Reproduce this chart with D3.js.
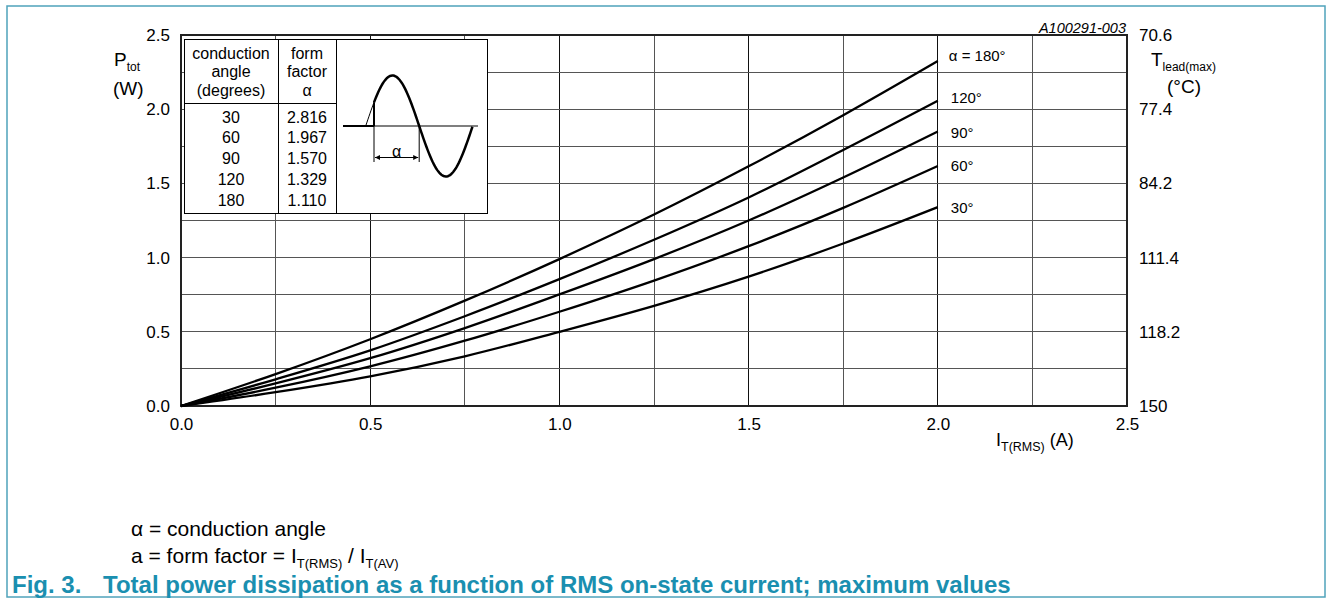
<!DOCTYPE html>
<meta charset="utf-8">
<style>
body { margin: 0; background: #fff; }
text { font-family: "Liberation Sans", Arial, sans-serif; fill: #000; }
.grid line { stroke: #555; stroke-width: 1; shape-rendering: crispEdges; }
.grid line.major { stroke: #111; }
.axis path, .axis line { display: none; }
.axis text { font-size: 17px; }
.curve { fill: none; stroke: #000; stroke-width: 2.3; }
.tbl line, .tbl rect { stroke: #000; stroke-width: 1; shape-rendering: crispEdges; }
.tbl text { font-size: 16px; text-anchor: middle; }
.clabel { font-size: 15px; paint-order: stroke; stroke: #fff; stroke-width: 4px; }
</style>
<svg width="1327" height="606"></svg>
<script src="https://d3js.org/d3.v7.min.js"></script>
<script>

// current I_T(RMS) in A
var current = [0, 0.25, 0.5, 0.75, 1.0, 1.25, 1.5, 1.75, 2.0];

// P_tot in W, one array per conduction angle
var p180 = [0, 0.215, 0.45, 0.71, 0.99, 1.29, 1.615, 1.96, 2.325];
var p120 = [0, 0.18, 0.375, 0.605, 0.855, 1.12, 1.405, 1.725, 2.057];
var p90  = [0, 0.152, 0.322, 0.525, 0.752, 0.99, 1.25, 1.54, 1.85];
var p60  = [0, 0.123, 0.267, 0.44, 0.635, 0.845, 1.077, 1.335, 1.617];
var p30  = [0, 0.093, 0.2, 0.335, 0.5, 0.675, 0.872, 1.095, 1.34];

var curveNames = ["α = 180°", "120°", "90°", "60°", "30°"];
var curveData = [p180, p120, p90, p60, p30];

// table in the corner
var tblAngles = ["30", "60", "90", "120", "180"];
var tblFactors = ["2.816", "1.967", "1.570", "1.329", "1.110"];

// axis ticks
var xTicks = [0, 0.5, 1.0, 1.5, 2.0, 2.5];
var yTicks = [0, 0.5, 1.0, 1.5, 2.0, 2.5];
var tLeadLabels = ["150", "118.2", "111.4", "84.2", "77.4", "70.6"];

var svg = d3.select("svg");

// outer frame
svg.append("rect")
    .attr("x", 7).attr("y", 6)
    .attr("width", 1318).attr("height", 591)
    .attr("fill", "#fff")
    .attr("stroke", "#4fa3bb")
    .attr("stroke-width", 1.5);

var x = d3.scaleLinear().domain([0, 2.5]).range([181, 1127]);
var y = d3.scaleLinear().domain([0, 2.5]).range([406, 35]);

// grid
var grid = svg.append("g").attr("class", "grid");
var steps = d3.range(1, 10).map(function(i) { return i * 0.25; });
grid.selectAll(".v")
    .data(steps)
    .enter().append("line")
        .attr("class", function(d) { return (d * 2) % 1 === 0 ? "v major" : "v"; })
        .attr("x1", function(d) { return x(d); })
        .attr("x2", function(d) { return x(d); })
        .attr("y1", y(0)).attr("y2", y(2.5));
grid.selectAll(".h")
    .data(steps)
    .enter().append("line")
        .attr("class", "h")
        .attr("y1", function(d) { return y(d); })
        .attr("y2", function(d) { return y(d); })
        .attr("x1", x(0)).attr("x2", x(2.5));

// plot border
svg.append("rect")
    .attr("x", x(0)).attr("y", y(2.5))
    .attr("width", x(2.5) - x(0)).attr("height", y(0) - y(2.5))
    .attr("fill", "none")
    .attr("stroke", "#222")
    .attr("stroke-width", 1.2)
    .attr("shape-rendering", "crispEdges");

// axes
svg.append("g")
    .attr("class", "axis")
    .attr("transform", "translate(" + x(0) + ",0)")
    .call(d3.axisLeft(y).tickValues(yTicks).tickSize(0).tickPadding(11).tickFormat(d3.format(".1f")));

svg.append("g")
    .attr("class", "axis")
    .attr("transform", "translate(0," + y(0) + ")")
    .call(d3.axisBottom(x).tickValues(xTicks).tickSize(0).tickPadding(12).tickFormat(d3.format(".1f")));

svg.append("g")
    .attr("class", "axis")
    .attr("transform", "translate(" + x(2.5) + ",0)")
    .call(d3.axisRight(y).tickValues(yTicks).tickSize(0).tickPadding(12)
        .tickFormat(function(d, i) { return tLeadLabels[i]; }));

// axis titles
var pt = svg.append("text").attr("x", 114).attr("y", 66).attr("font-size", "19px");
pt.append("tspan").text("P");
pt.append("tspan").attr("font-size", "12px").attr("dy", 5).text("tot");
svg.append("text").attr("x", 113).attr("y", 95).attr("font-size", "19px").text("(W)");

var tl = svg.append("text").attr("x", 1151).attr("y", 66).attr("font-size", "19px");
tl.append("tspan").text("T");
tl.append("tspan").attr("font-size", "12px").attr("dy", 5).text("lead(max)");
svg.append("text").attr("x", 1167).attr("y", 93).attr("font-size", "19px").text("(°C)");

var xt = svg.append("text").attr("x", 996).attr("y", 446).attr("font-size", "18px");
xt.append("tspan").text("I");
xt.append("tspan").attr("font-size", "12.5px").attr("dy", 5).text("T(RMS)");
xt.append("tspan").attr("dy", -5).text(" (A)");

svg.append("text")
    .attr("x", 1126).attr("y", 33)
    .attr("text-anchor", "end")
    .attr("font-size", "14.5px")
    .attr("font-style", "italic")
    .text("A100291-003");

// curves
var line = d3.line()
    .curve(d3.curveCatmullRom.alpha(0.5))
    .x(function(d, i) { return x(current[i]); })
    .y(function(d) { return y(d); });

svg.selectAll(".curve")
    .data(curveData)
    .enter().append("path")
        .attr("class", "curve")
        .attr("d", line);

var labelShift = [-5, -3, 1, 0, 1];
svg.selectAll(".clabel")
    .data(curveData)
    .enter().append("text")
        .attr("class", "clabel")
        .attr("x", function(d, i) { return x(2.0) + (i === 0 ? 11 : 13); })
        .attr("y", function(d, i) { return y(d[d.length - 1]) + labelShift[i]; })
        .attr("dy", "0.35em")
        .text(function(d, i) { return curveNames[i]; });

// inset table
var tbl = svg.append("g").attr("class", "tbl");
var tx0 = 184, tx1 = 278, tx2 = 336, tx3 = 487, ty0 = 39, tyH = 103, ty1 = 213;
tbl.append("rect")
    .attr("x", tx0).attr("y", ty0)
    .attr("width", tx3 - tx0).attr("height", ty1 - ty0)
    .attr("fill", "#fff");
tbl.append("line").attr("x1", tx1).attr("x2", tx1).attr("y1", ty0).attr("y2", ty1);
tbl.append("line").attr("x1", tx2).attr("x2", tx2).attr("y1", ty0).attr("y2", ty1);
tbl.append("line").attr("x1", tx0).attr("x2", tx2).attr("y1", tyH).attr("y2", tyH);

var c1 = (tx0 + tx1) / 2, c2 = (tx1 + tx2) / 2;
[["conduction", "form"], ["angle", "factor"], ["(degrees)", "α"]].forEach(function(r, i) {
    tbl.append("text").attr("x", c1).attr("y", 53 + i * 18.8).attr("dy", "0.35em").text(r[0]);
    tbl.append("text").attr("x", c2).attr("y", 53 + i * 18.8).attr("dy", "0.35em").text(r[1]);
});
tbl.selectAll(".ang")
    .data(tblAngles)
    .enter().append("text")
        .attr("x", c1)
        .attr("y", function(d, i) { return 117 + i * 20.8; })
        .attr("dy", "0.35em")
        .text(function(d) { return d; });
tbl.selectAll(".ff")
    .data(tblFactors)
    .enter().append("text")
        .attr("x", c2)
        .attr("y", function(d, i) { return 117 + i * 20.8; })
        .attr("dy", "0.35em")
        .text(function(d) { return d; });

// waveform sketch
var w0 = 365.7, wPer = 107, wBase = 126, wAmp = 50.5, wFire = 374;
var wx = function(t) { return w0 + t * wPer; };
var wy = function(t) { return wBase - wAmp * Math.sin(2 * Math.PI * t); };
var tFire = (wFire - w0) / wPer;
var sine = d3.line().x(wx).y(wy);

var sk = svg.append("g").attr("fill", "none").attr("stroke", "#000");
sk.append("line").attr("x1", 343).attr("x2", 478).attr("y1", wBase).attr("y2", wBase).attr("stroke-width", 1.2);
sk.append("line").attr("x1", 343).attr("x2", wFire).attr("y1", wBase).attr("y2", wBase).attr("stroke-width", 2);
sk.append("path").attr("d", sine(d3.range(0, tFire + 0.001, tFire / 8))).attr("stroke-width", 1);
sk.append("line").attr("x1", wFire).attr("x2", wFire).attr("y1", wBase).attr("y2", wy(tFire)).attr("stroke-width", 2);
sk.append("path").attr("d", sine(d3.range(tFire, 1.0001, 0.01))).attr("stroke-width", 2.5);

// alpha dimension
var defs = svg.append("defs");
defs.append("marker")
    .attr("id", "arr")
    .attr("viewBox", "0 0 10 10")
    .attr("refX", 10).attr("refY", 5)
    .attr("markerWidth", 9).attr("markerHeight", 5)
    .attr("markerUnits", "userSpaceOnUse")
    .attr("orient", "auto-start-reverse")
    .append("path").attr("d", "M0,0L10,5L0,10z").attr("fill", "#000");
var zeroX = wx(0.5);
sk.append("line").attr("x1", wFire).attr("x2", wFire).attr("y1", wBase).attr("y2", 162).attr("stroke-width", 1);
sk.append("line").attr("x1", zeroX).attr("x2", zeroX).attr("y1", wBase).attr("y2", 162).attr("stroke-width", 1);
sk.append("line")
    .attr("x1", wFire + 1).attr("x2", zeroX - 1)
    .attr("y1", 157.5).attr("y2", 157.5)
    .attr("stroke-width", 1)
    .attr("marker-start", "url(#arr)")
    .attr("marker-end", "url(#arr)");
svg.append("text")
    .attr("x", (wFire + zeroX) / 2).attr("y", 157)
    .attr("text-anchor", "middle")
    .attr("font-size", "16px")
    .text("α");

// notes below
svg.append("text").attr("x", 131).attr("y", 536).attr("font-size", "21px").text("α = conduction angle");
var nt = svg.append("text").attr("x", 131).attr("y", 563).attr("font-size", "21px");
nt.append("tspan").text("a = form factor = I");
nt.append("tspan").attr("font-size", "13px").attr("dy", 5).text("T(RMS)");
nt.append("tspan").attr("dy", -5).text(" / I");
nt.append("tspan").attr("font-size", "13px").attr("dy", 5).text("T(AV)");

var cap = svg.append("text").attr("y", 593).attr("font-size", "24px").attr("font-weight", "bold");
cap.append("tspan").attr("x", 12).attr("fill", "#1a8fb0").text("Fig. 3.");
cap.append("tspan").attr("x", 103).attr("fill", "#1a8fb0")
    .text("Total power dissipation as a function of RMS on-state current; maximum values");

</script>
